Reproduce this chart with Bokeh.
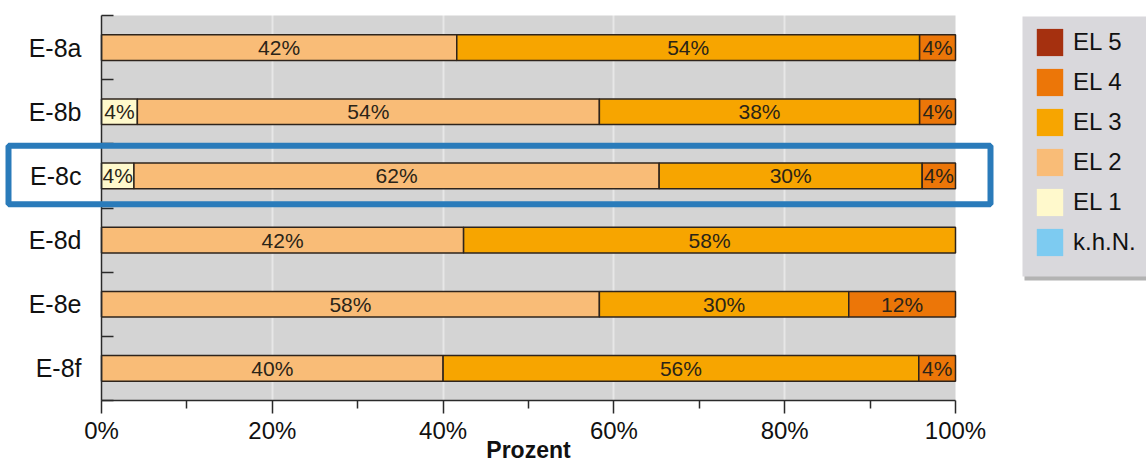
import numpy as np
from bokeh.plotting import figure
from bokeh.models import (Range1d, FixedTicker, PrintfTickFormatter, ColumnDataSource,
                          Legend, LegendItem, BoxAnnotation, Label, LinearAxis, Grid)
from bokeh.embed import file_html
from bokeh.resources import INLINE
from bokeh.core.properties import value

# ---------------- data ----------------
categories = ["E-8a", "E-8b", "E-8c", "E-8d", "E-8e", "E-8f"]
levels = ["k.h.N.", "EL 1", "EL 2", "EL 3", "EL 4", "EL 5"]
khn = [0.0, 0.0, 0.0, 0.0, 0.0, 0.0]
el1 = [0.0, 4.2, 3.8, 0.0, 0.0, 0.0]
el2 = [41.6, 54.1, 61.5, 42.4, 58.3, 40.0]
el3 = [54.2, 37.5, 30.8, 57.6, 29.2, 55.7]
el4 = [4.2, 4.2, 3.9, 0.0, 12.5, 4.3]
el5 = [0.0, 0.0, 0.0, 0.0, 0.0, 0.0]
khn_labels = ["", "", "", "", "", ""]
el1_labels = ["", "4%", "4%", "", "", ""]
el2_labels = ["42%", "54%", "62%", "42%", "58%", "40%"]
el3_labels = ["54%", "38%", "30%", "58%", "30%", "56%"]
el4_labels = ["4%", "4%", "4%", "", "12%", "4%"]
el5_labels = ["", "", "", "", "", ""]
x_ticks = [0, 20, 40, 60, 80, 100]
x_minor_ticks = [10, 30, 50, 70, 90]
x_title = "Prozent"
highlight = "E-8c"

# ---------------- styles / layout ----------------
colors = {
    "k.h.N.": "#7DCBF1",
    "EL 1": "#FFF9CC",
    "EL 2": "#F9BC77",
    "EL 3": "#F7A500",
    "EL 4": "#EC7608",
    "EL 5": "#A5300F",
}
FONT = "Liberation Sans"
W, H = 1146, 465
PL, PR, PT, PB = 101, 955, 15, 400  # plot-area edges in pixels

n = len(categories)
ypos = np.arange(n)[::-1]  # first category at the top
boundaries = [float(b) for b in (np.arange(n + 1) - 0.5)]

xpx = (PR - PL) / 100.0
band = (PB - PT) / n
x_range = Range1d(-PL / xpx, 100 + (W - PR) / xpx)
y_range = Range1d(-0.5 - (H - PB) / band, n - 0.5 + PT / band)

p = figure(width=W, height=H, x_range=x_range, y_range=y_range,
           x_axis_location=None, y_axis_location=None,
           output_backend="svg", toolbar_location=None, min_border=0)
p.background_fill_color = "white"
p.border_fill_color = "white"
p.outline_line_color = None
for g in p.grid:
    g.visible = False

# grey plot area
p.add_layout(BoxAnnotation(left=0, right=100, bottom=-0.5, top=n - 0.5,
                           fill_color="#D4D4D4", fill_alpha=1.0, line_color=None,
                           level="underlay"))
# faint vertical grid lines (white, translucent -> invisible outside the grey area)
p.add_layout(Grid(dimension=0, ticker=FixedTicker(ticks=x_ticks[1:-1]),
                  grid_line_color="white", grid_line_alpha=0.45, grid_line_width=2))

# x axis
xa = LinearAxis(fixed_location=-0.5, bounds=(0, 100),
                ticker=FixedTicker(ticks=x_ticks, minor_ticks=x_minor_ticks),
                formatter=PrintfTickFormatter(format="%d%%"))
xa.major_tick_in = 0
xa.major_tick_out = 13
xa.minor_tick_in = 0
xa.minor_tick_out = 8
xa.axis_line_width = 1.5
xa.axis_line_color = "#2a2a2a"
xa.major_tick_line_width = 1.5
xa.major_tick_line_color = "#2a2a2a"
xa.minor_tick_line_width = 1.5
xa.minor_tick_line_color = "#2a2a2a"
xa.major_label_standoff = 3
xa.major_label_text_font = FONT
xa.major_label_text_font_size = "24px"
xa.major_label_text_color = "#111111"
p.add_layout(xa, "below")

# y axis
ya = LinearAxis(fixed_location=0, bounds=(-0.5, n - 0.5),
                ticker=FixedTicker(ticks=[int(v) for v in ypos], minor_ticks=boundaries))
ya.major_label_overrides = {int(y): c for y, c in zip(ypos, categories)}
ya.major_tick_line_color = None
ya.major_tick_in = 0
ya.major_tick_out = 0
ya.minor_tick_in = 12
ya.minor_tick_out = 0
ya.minor_tick_line_width = 1.5
ya.minor_tick_line_color = "#2a2a2a"
ya.axis_line_width = 1.5
ya.axis_line_color = "#2a2a2a"
ya.major_label_standoff = 20
ya.major_label_text_font = FONT
ya.major_label_text_font_size = "25px"
ya.major_label_text_color = "#111111"
p.add_layout(ya, "left")

# stacked bars
stack = [khn, el1, el2, el3, el4, el5]
label_sets = [khn_labels, el1_labels, el2_labels, el3_labels, el4_labels, el5_labels]
cum = np.zeros(n)
legend_items = []
for name, vals, labs in zip(levels, stack, label_sets):
    vals = np.asarray(vals, dtype=float)
    left = cum.copy()
    right = cum + vals
    cum = right
    full = ColumnDataSource(dict(y=ypos, left=left, right=right))
    mask = vals > 0
    seg = ColumnDataSource(dict(
        y=ypos[mask], left=left[mask], right=right[mask],
        mid=((left + right) / 2)[mask], label=np.array(labs)[mask]))
    r = p.hbar(y="y", left="left", right="right", height=0.4, source=full,
               fill_color=colors[name], line_color=None)
    p.hbar(y="y", left="left", right="right", height=0.4, source=seg,
           fill_color=None, line_color="#2e241c", line_width=1.5)
    p.text(x="mid", y="y", text="label", source=seg, text_align="center",
           text_baseline="middle", text_font=value(FONT), text_font_size="21px",
           text_color="#2a2418")
    legend_items.append(LegendItem(label=name, renderers=[r]))

# legend box: shadow + background
LX0, LY0, LY1 = 1022, 16, 276  # legend box edges in pixels
p.add_layout(BoxAnnotation(left=LX0 + 2, left_units="screen", right=W + 20, right_units="screen",
                           top=H - (LY0 + 4), top_units="screen",
                           bottom=H - (LY1 + 4), bottom_units="screen",
                           fill_color="#808080", fill_alpha=0.6, line_color=None))
p.add_layout(BoxAnnotation(left=LX0, left_units="screen", right=W + 20, right_units="screen",
                           top=H - LY0, top_units="screen",
                           bottom=H - LY1, bottom_units="screen",
                           fill_color="#D9D8DC", fill_alpha=1.0, line_color=None))
# legend entries (no border -> no padding; swatch is 80% of glyph box)
leg_item, leg_space = 34, 6
leg_h = n * leg_item + (n - 1) * leg_space
leg_x, leg_top = 1033, 25
legend = Legend(items=list(reversed(legend_items)), location=(leg_x, H - leg_top - leg_h),
                glyph_width=33, glyph_height=leg_item, label_height=leg_item,
                spacing=leg_space, padding=0, label_standoff=7, margin=0,
                label_text_font=FONT, label_text_font_size="24px",
                label_text_color="#111111",
                background_fill_alpha=0.0, border_line_color=None)
p.add_layout(legend)

# highlight box around one category
hpos = int(ypos[categories.index(highlight)])
p.add_layout(BoxAnnotation(left=8, left_units="screen", right=990, right_units="screen",
                           top=hpos + 0.47, bottom=hpos - 0.44,
                           fill_alpha=0, line_color="#2A7BBA", line_alpha=1.0, line_width=6))

# x axis title
p.add_layout(Label(x=50, x_units="data", y=16, y_units="screen", text=x_title,
                   text_align="center", text_baseline="alphabetic",
                   text_font=FONT, text_font_size="23px", text_font_style="bold",
                   text_color="#111111"))

open("out.html", "w").write(file_html(p, INLINE))
